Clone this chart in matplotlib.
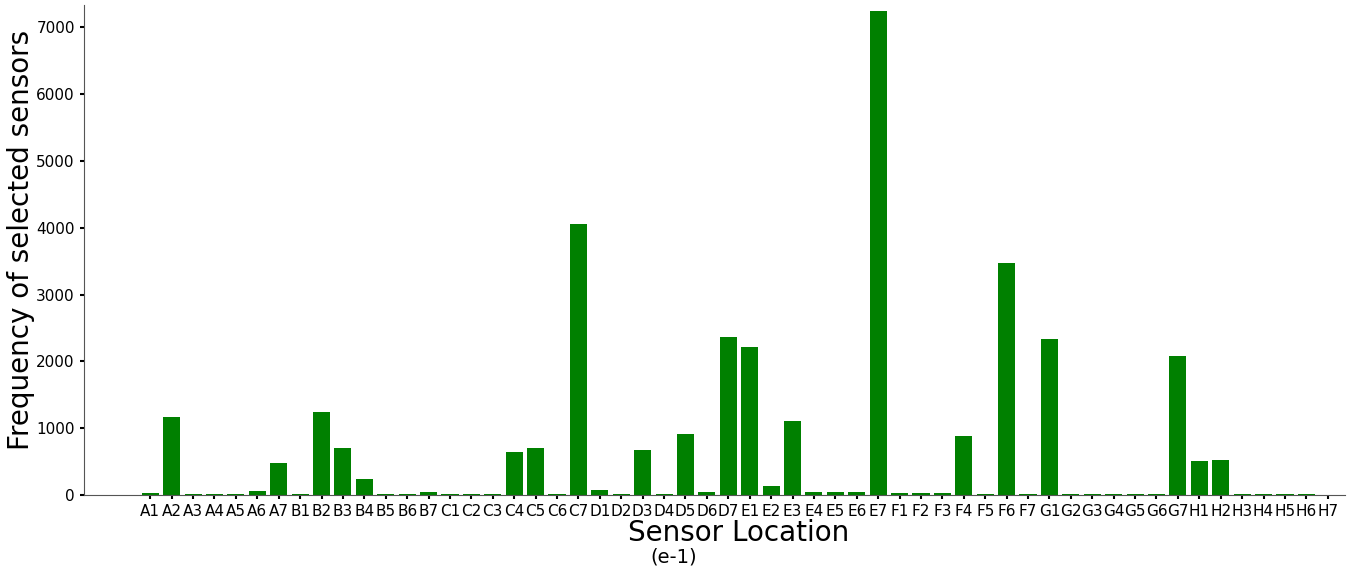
import numpy as np
import matplotlib.pyplot as plt

# sensor grid labels A1..H7
rows = ['A', 'B', 'C', 'D', 'E', 'F', 'G', 'H']
sensors = [r + str(i) for r in rows for i in range(1, 8)]

# frequency of each sensor being selected
freq_A = [25, 1170, 12, 12, 12, 65, 480]
freq_B = [20, 1240, 710, 240, 10, 10, 40]
freq_C = [10, 10, 10, 640, 710, 10, 4053]
freq_D = [80, 20, 670, 20, 910, 40, 2363]
freq_E = [2213, 135, 1107, 50, 50, 40, 7240]
freq_F = [25, 35, 35, 880, 10, 3470, 10]
freq_G = [2333, 12, 20, 20, 12, 20, 2085]
freq_H = [510, 525, 12, 12, 12, 20, 0]

freq = freq_A + freq_B + freq_C + freq_D + freq_E + freq_F + freq_G + freq_H

fig = plt.figure(figsize=(13.53, 5.69), dpi=100)
ax = fig.add_axes([0.062, 0.13, 0.932, 0.861])

x = np.arange(len(sensors))
ax.bar(x, freq, width=0.8, color='green')

ax.set_xticks(x)
ax.set_xticklabels(sensors, fontsize=11)
ax.tick_params(axis='y', labelsize=11)
ax.tick_params(length=3, width=1.5)
ax.set_xlim(-3.1, 55.8)
ax.set_ylim(0, 7330)

ax.spines['top'].set_visible(False)
ax.spines['right'].set_visible(False)
for s in ['left', 'bottom']:
    ax.spines[s].set_color('#555555')

ax.set_xlabel('Sensor Location', fontsize=20, labelpad=0)
ax.xaxis.label.set_x(0.519)  # label sits a bit right of centre in the original
ax.set_ylabel('Frequency of selected sensors', fontsize=20)
ax.yaxis.set_label_coords(-0.039, 0.52)

fig.text(0.498, 0.021, '(e-1)', fontsize=14, ha='center', va='center')

fig.savefig('out.png')
